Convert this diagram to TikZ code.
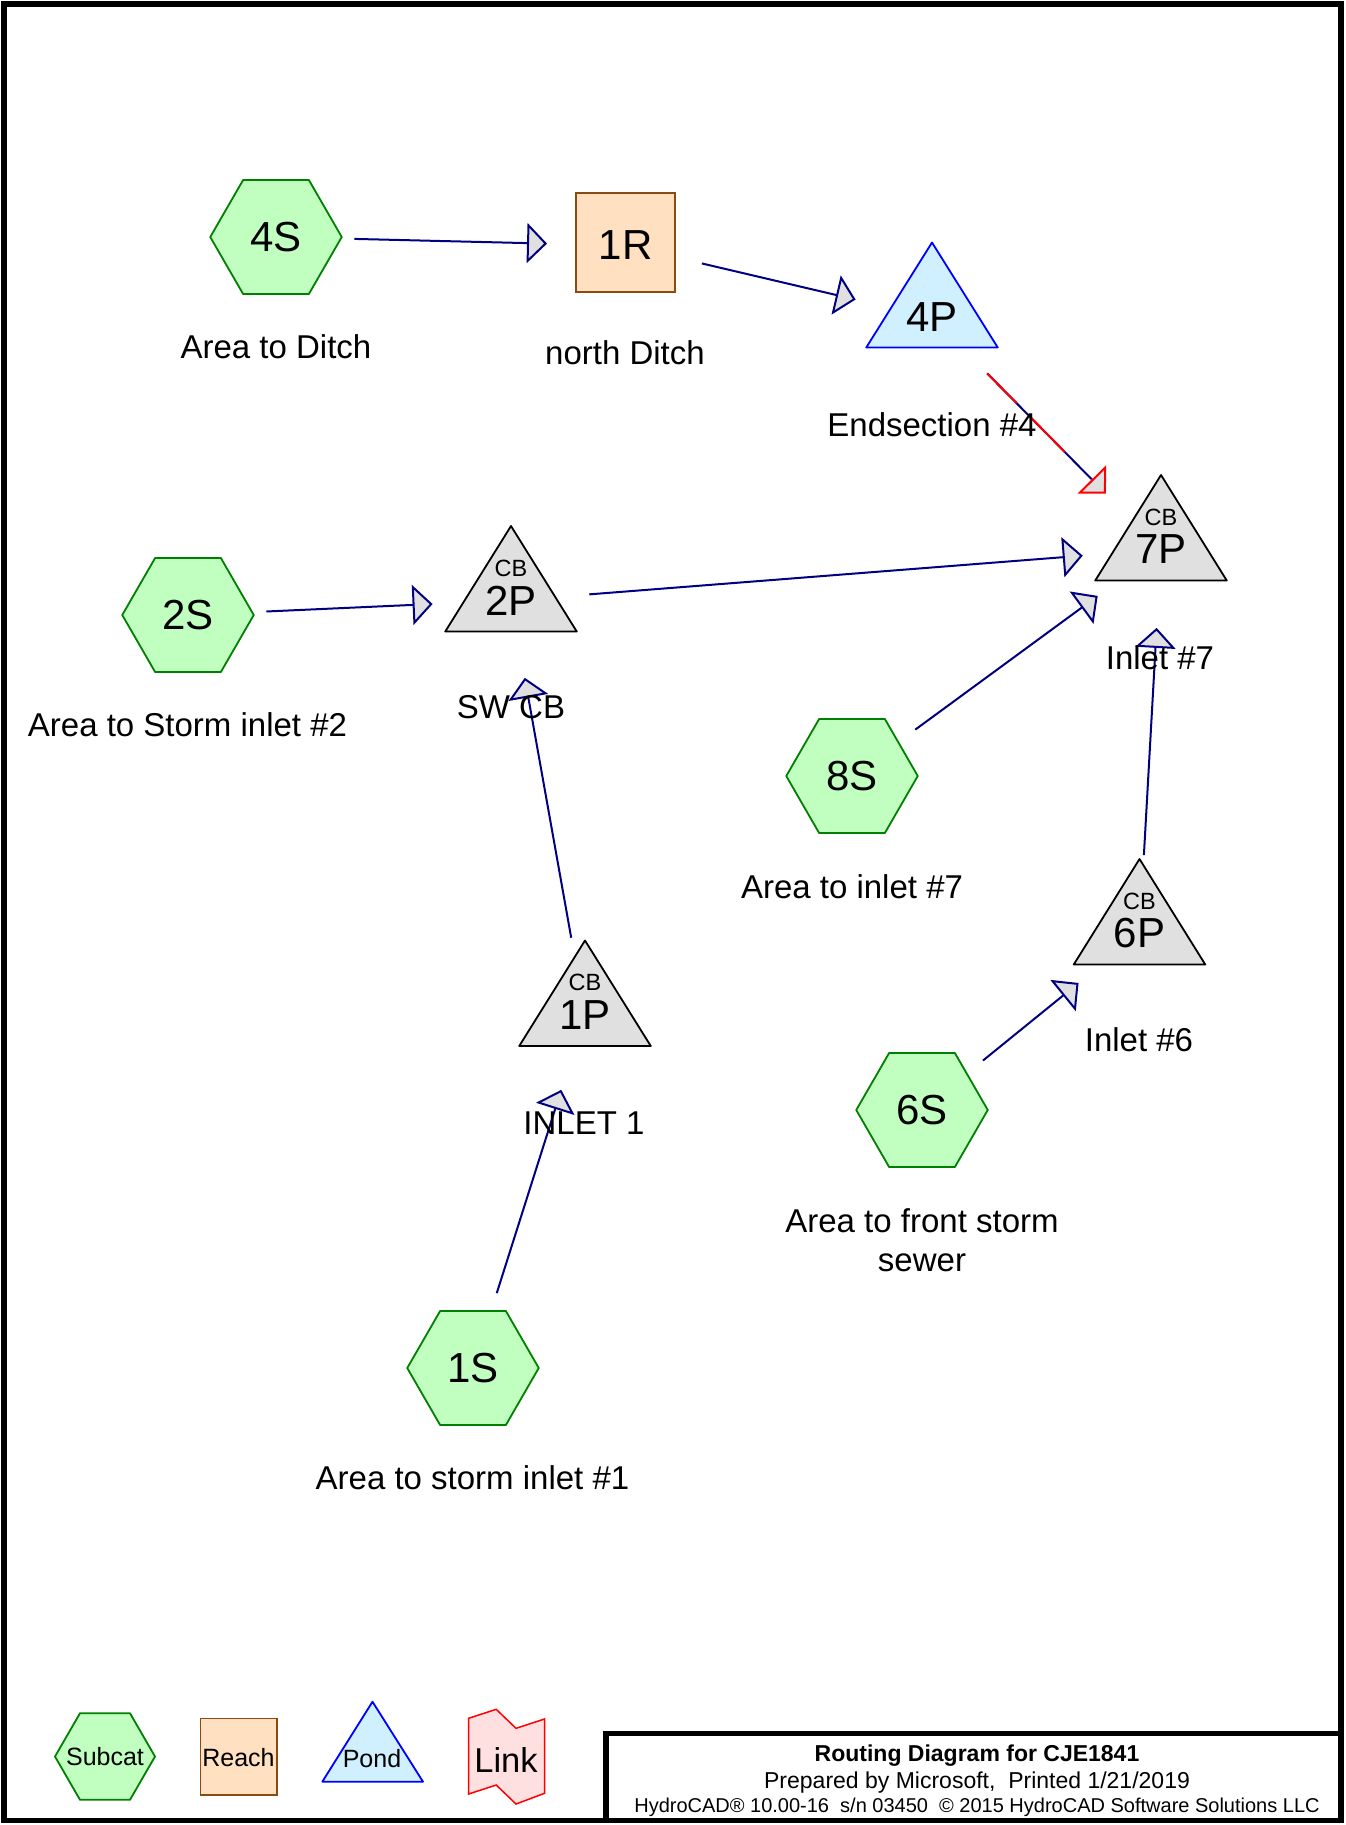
\documentclass[tikz,border=0pt]{standalone}
\usepackage{fontspec}
\setmainfont{Liberation Sans}
\usetikzlibrary{arrows.meta}

\definecolor{flowline}{HTML}{000080}
\definecolor{subfill}{HTML}{C0FFC0}
\definecolor{subedge}{HTML}{008000}
\definecolor{reachfill}{HTML}{FFE0C0}
\definecolor{reachedge}{HTML}{8B4A10}
\definecolor{pondfill}{HTML}{D0F0FF}
\definecolor{pondedge}{HTML}{0000FF}
\definecolor{cbfill}{HTML}{E0E0E0}
\definecolor{linkfill}{HTML}{FFE0E0}
\definecolor{linkedge}{HTML}{FF0000}

\tikzset{
  subcatshape/.style={draw=subedge, fill=subfill, line width=1.8pt, line join=round},
  reachshape/.style={draw=reachedge, fill=reachfill, line width=1.8pt},
  pondshape/.style={draw=pondedge, fill=pondfill, line width=1.8pt, line join=round},
  cbshape/.style={draw=black, fill=cbfill, line width=1.8pt, line join=round},
  linkshape/.style={draw=linkedge, fill=linkfill, line width=1.5pt},
  idtext/.style={font=\fontsize{42}{48}\selectfont, inner sep=0pt},
  cbtext/.style={font=\fontsize{23.5}{26}\selectfont, inner sep=0pt},
  lbl/.style={font=\fontsize{33}{39.5}\selectfont, align=center, inner sep=0pt},
  legtext/.style={font=\fontsize{25}{28}\selectfont, inner sep=0pt},
  flowtip/.style={-{Triangle[length=20pt,width=40pt,fill=cbfill]}},
  flow/.style={draw=flowline, line width=2pt, shorten <=78.5pt, shorten >=78.5pt, flowtip},
  titleline/.style={font=\fontsize{23}{26}\selectfont, anchor=base, inner sep=0pt},
}

% subcatchment: hexagon with its id
\newcommand\subcatnode[4]{%
  \begin{scope}[shift={(#2,#3)}]
    \draw[subcatshape] (65.75,0) -- (32.875,57) -- (-32.875,57) -- (-65.75,0)
      -- (-32.875,-57) -- (32.875,-57) -- cycle;
  \end{scope}
  \node[idtext] (#1) at (#2,#3) {#4};}

% catch basin pond: grey triangle with CB tag and id
\newcommand\cbnode[4]{%
  \begin{scope}[shift={(#2,#3)}]
    \draw[cbshape] (0,-74.5) -- (65.75,31) -- (-65.75,31) -- cycle;
  \end{scope}
  \node[cbtext] (#1cb) at (#2,#3-32.5) {CB};
  \node[idtext] (#1) at (#2,#3) {#4};}

\begin{document}
\begin{tikzpicture}[x=1pt, y=-1pt]
\useasboundingbox (0,0) rectangle (1345,1825);
\fill[white] (0,0) rectangle (1345,1825);

% ---- nodes ----
\subcatnode{4S}{276}{237}{4S}
\subcatnode{2S}{188}{615}{2S}
\subcatnode{8S}{852}{776}{8S}
\subcatnode{6S}{922}{1110}{6S}
\subcatnode{1S}{473}{1368}{1S}

\draw[reachshape] (576,193) rectangle (675,292);
\node[idtext] (1R) at (625.5,245.5) {1R};

\draw[pondshape] (932,242.5) -- (997.75,347.5) -- (866.25,347.5) -- cycle;
\node[idtext] (4P) at (932,317.5) {4P};

\cbnode{7P}{1161}{549.5}{7P}
\cbnode{2P}{511}{600.5}{2P}
\cbnode{6P}{1139.5}{933.5}{6P}
\cbnode{1P}{585}{1015}{1P}

% ---- routing ----
\draw[flow] (4S.center) -- (1R.center);
\draw[flow] (1R.center) -- (4P.center);
\draw[flow] (2S.center) -- (2P.center);
\draw[flow] (2P.center) -- (7P.center);
\draw[flow] (8S.center) -- (7P.center);
\draw[flow] (6P.center) -- (7P.center);
\draw[flow] (1P.center) -- (2P.center);
\draw[flow] (1S.center) -- (1P.center);
\draw[flow] (6S.center) -- (6P.center);
% outlet link: blue line with red dashes
\draw[draw=flowline, line width=2pt, shorten <=78.5pt, shorten >=98.5pt] (4P.center) -- (7P.center);
\draw[draw=linkedge, line width=2pt, shorten <=78.5pt, shorten >=78.5pt,
      dash pattern=on 42pt off 16.5pt on 52pt off 60pt, flowtip] (4P.center) -- (7P.center);

% ---- labels ----
\node[lbl] (l4S) at (276,347) {Area to Ditch};
\node[lbl] (l1R) at (625,352.5) {north Ditch};
\node[lbl] (l4P) at (932,425) {Endsection \#4};
\node[lbl] (l2S) at (187.5,725) {Area to Storm inlet \#2};
\node[lbl] (l2P) at (511,707.5) {SW CB};
\node[lbl] (l7P) at (1160,657.5) {Inlet \#7};
\node[lbl] (l8S) at (852,887) {Area to inlet \#7};
\node[lbl] (l6P) at (1139,1040) {Inlet \#6};
\node[lbl] (l1P) at (584,1123) {INLET 1};
\node[lbl] (l6S) at (922,1240) {Area to front storm\\sewer};
\node[lbl] (l1S) at (472.5,1478) {Area to storm inlet \#1};

% ---- legend ----
\begin{scope}[shift={(105,1756.5)}]
  \draw[subcatshape] (50,0) -- (25,43.3) -- (-25,43.3) -- (-50,0) -- (-25,-43.3) -- (25,-43.3) -- cycle;
\end{scope}
\node[legtext] (legsub) at (105,1757) {Subcat};
\draw[reachshape] (200.5,1718.5) rectangle (277,1795);
\node[legtext] (legreach) at (238.5,1757.5) {Reach};
\draw[pondshape] (372.5,1701.7) -- (423,1781.7) -- (322.3,1781.7) -- cycle;
\node[legtext] (legpond) at (372,1759) {Pond};
\draw[linkshape] (468.6,1718.3) -- (496.2,1709.3) -- (516,1728.3) -- (544.5,1719)
  -- (544.5,1793.3) -- (516,1804) -- (496.2,1785) -- (468.6,1794) -- cycle;
\node[inner sep=0pt, font=\fontsize{34.5}{38}\selectfont] (leglink) at (506,1759.5) {Link};

% ---- frame and title block ----
\draw[line width=5.5pt] (4,4) rectangle (1341,1820.5);
\draw[line width=5.5pt] (606,1820.5) -- (606,1733.5) -- (1341,1733.5);
\node[titleline, font=\bfseries\fontsize{23}{26}\selectfont] (ttl) at (977,1761.5) {Routing Diagram for CJE1841};
\node[titleline] (prep) at (977,1788.5) {Prepared by Microsoft,\ \ Printed 1/21/2019};
\node[titleline, font=\fontsize{20}{23}\selectfont] (soft) at (977,1812) {HydroCAD® 10.00-16\ \ s/n 03450\ \ © 2015 HydroCAD Software Solutions LLC};
\end{tikzpicture}
\end{document}
